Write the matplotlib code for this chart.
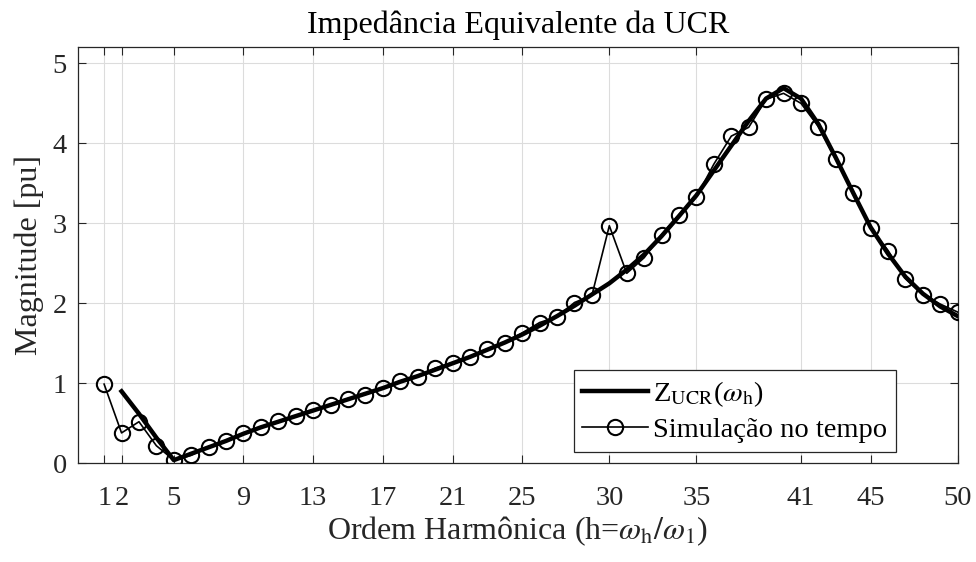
import numpy as np
import matplotlib
matplotlib.use('Agg')
import matplotlib.pyplot as plt

# Harmonic orders
h_sim = np.arange(1, 51)
h_z = np.arange(2, 51)

# Time-domain simulation magnitude [pu], h = 1..50
sim_mag = [0.99, 0.38, 0.52, 0.22, 0.04, 0.10, 0.21, 0.28, 0.375, 0.45,
           0.53, 0.59, 0.67, 0.73, 0.81, 0.86, 0.94, 1.03, 1.08, 1.19,
           1.26, 1.33, 1.43, 1.51, 1.63, 1.76, 1.83, 2.01, 2.10, 2.97,
           2.375, 2.57, 2.86, 3.11, 3.33, 3.74, 4.09, 4.20, 4.55, 4.625,
           4.50, 4.21, 3.80, 3.38, 2.94, 2.66, 2.31, 2.11, 1.99, 1.89]

# Analytical equivalent impedance Z_UCR [pu], h = 2..50
z_mag = [0.90, 0.62, 0.32, 0.04, 0.12, 0.20, 0.28, 0.37, 0.45, 0.52,
         0.59, 0.66, 0.73, 0.80, 0.87, 0.94, 1.02, 1.09, 1.17, 1.25,
         1.33, 1.42, 1.51, 1.61, 1.72, 1.84, 1.97, 2.11, 2.25, 2.42,
         2.61, 2.84, 3.09, 3.35, 3.66, 3.97, 4.28, 4.56, 4.69, 4.56,
         4.24, 3.82, 3.38, 2.95, 2.62, 2.33, 2.12, 1.96, 1.84]

x_ticks = [1, 2, 5, 9, 13, 17, 21, 25, 30, 35, 41, 45, 50]
y_ticks = [0, 1, 2, 3, 4, 5]

plt.rcParams['font.family'] = ['Liberation Serif', 'DejaVu Serif']
plt.rcParams['mathtext.fontset'] = 'stix'

fig = plt.figure(figsize=(9.76, 5.62), dpi=100)
ax = fig.add_axes([0.0799, 0.1756, 0.9014, 0.7402])

ax.plot(h_z, z_mag, color='black', linewidth=3.2, label=r'Z$_{\mathrm{UCR}}$($\omega_{\mathrm{h}}$)', zorder=3)
ax.plot(h_sim, sim_mag, color='black', linewidth=1.2, marker='o', markersize=11,
        markerfacecolor='none', markeredgewidth=1.5, label='Simulação no tempo', zorder=4)

ax.set_xlim(-0.5, 50)
ax.set_ylim(0, 5.2)
ax.set_xticks(x_ticks)
ax.set_yticks(y_ticks)
ax.tick_params(direction='in', top=True, right=True, length=6, width=0.8,
               labelsize=20.5, colors='#262626')
ax.tick_params(axis='x', pad=16)
ax.tick_params(axis='y', pad=8)
ax.grid(True, color='#dcdcdc', linewidth=0.8)
ax.set_axisbelow(True)
for s in ax.spines.values():
    s.set_color('#262626')
    s.set_linewidth(0.9)

ax.set_title('Impedância Equivalente da UCR', fontsize=23, pad=10)
ax.set_xlabel(r'Ordem Harmônica (h=$\omega_{\mathrm{h}}/\omega_{1}$)', fontsize=23, color='#262626', labelpad=3)
ax.set_ylabel('Magnitude [pu]', fontsize=23, color='#262626', labelpad=6)

leg = ax.legend(loc='lower right', bbox_to_anchor=(0.93, 0.028), borderaxespad=0,
                fontsize=20.5, fancybox=False, framealpha=1, edgecolor='#262626',
                handlelength=2.3, handletextpad=0.2, borderpad=0.3, labelspacing=0.3)
leg.get_frame().set_linewidth(0.9)

fig.savefig('out.png', dpi=100)
